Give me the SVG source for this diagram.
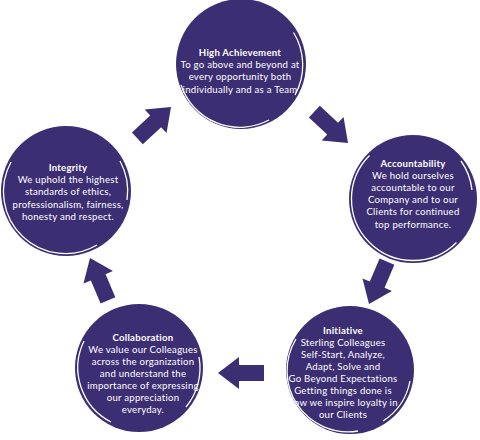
<svg xmlns="http://www.w3.org/2000/svg" xmlns:xlink="http://www.w3.org/1999/xlink" width="480" height="440" viewBox="0 0 480 440">
<style>
.c{fill:#3c2e73}
.ring{fill:none;stroke:#ffffff;stroke-width:1.3}
.t{font-family:Lato,"Open Sans","Liberation Sans",sans-serif;font-size:9.6px;letter-spacing:0.25px;fill:#ffffff;text-anchor:middle}
.b{font-weight:bold}
.arr{fill:#3c2e73}
</style>
<defs>
<path id="arrow" d="M-46,-8 L-21,-8 L-21,-16 L0,0 L-21,16 L-21,8 L-46,8 Z"/>
</defs>
<rect width="480" height="440" fill="#ffffff"/>
<g id="connectors" class="arr">
<use xlink:href="#arrow" transform="translate(171,107) rotate(-43)"/>
<use xlink:href="#arrow" transform="translate(348,143) rotate(43)"/>
<use xlink:href="#arrow" transform="translate(369,304) rotate(113)"/>
<use xlink:href="#arrow" transform="translate(218,373) rotate(180)"/>
<use xlink:href="#arrow" transform="translate(90,258) rotate(-113)"/>
</g>
<g id="high-achievement">
<circle class="c" cx="241" cy="64" r="65"/>
<path class="ring" d="M293.5,32.5 A62,62 0 0 1 295,95"/>
<path class="ring" d="M269,120 A62,62 0 0 1 181,85"/>
<text class="t" x="240" y="56"><tspan class="b" x="240">High Achievement</tspan><tspan x="240" dy="12.2">To go above and beyond at</tspan><tspan x="240" dy="12.2">every opportunity both</tspan><tspan x="240" dy="12.2">individually and as a Team</tspan></text>
</g>
<g id="accountability">
<circle class="c" cx="413" cy="199" r="64"/>
<path class="ring" d="M456.5,242.5 A61,61 0 0 1 369.5,155.5"/>
<path class="ring" d="M461,161 A61,61 0 0 1 472,190"/>
<text class="t" x="413" y="167"><tspan class="b" x="413">Accountability</tspan><tspan x="413" dy="12.1">We hold ourselves</tspan><tspan x="413" dy="12.1">accountable to our</tspan><tspan x="413" dy="12.1">Company and to our</tspan><tspan x="413" dy="12.1">Clients for continued</tspan><tspan x="413" dy="12.1">top performance.</tspan></text>
</g>
<g id="initiative">
<circle class="c" cx="350" cy="370" r="64"/>
<path class="ring" d="M358,431 A61,61 0 0 1 296,339"/>
<path class="ring" d="M410,381 A61,61 0 0 1 383,421"/>
<text class="t" x="343" y="334"><tspan class="b" x="343">Initiative</tspan><tspan x="343" dy="12">Sterling Colleagues</tspan><tspan x="343" dy="12">Self-Start, Analyze,</tspan><tspan x="343" dy="12">Adapt, Solve and</tspan><tspan x="343" dy="12">Go Beyond Expectations</tspan><tspan x="343" dy="12">Getting things done is</tspan><tspan x="343" dy="12">how we inspire loyalty in</tspan><tspan x="343" dy="12">our Clients</tspan></text>
</g>
<g id="collaboration">
<circle class="c" cx="139" cy="368" r="64"/>
<path class="ring" d="M199,357 A61,61 0 0 1 186,407"/>
<path class="ring" d="M111,422 A61,61 0 0 1 84,341"/>
<text class="t" x="143" y="341"><tspan class="b" x="143">Collaboration</tspan><tspan x="143" dy="12">We value our Colleagues</tspan><tspan x="143" dy="12">across the organization</tspan><tspan x="143" dy="12">and understand the</tspan><tspan x="143" dy="12">importance of expressing</tspan><tspan x="143" dy="12">our appreciation</tspan><tspan x="143" dy="12">everyday.</tspan></text>
</g>
<g id="integrity">
<circle class="c" cx="66" cy="191" r="65"/>
<path class="ring" d="M97,245 A62,62 0 0 1 11,162"/>
<path class="ring" d="M120,161 A62,62 0 0 1 127,200"/>
<text class="t" x="68" y="171"><tspan class="b" x="68">Integrity</tspan><tspan x="68" dy="12.2">We uphold the highest</tspan><tspan x="68" dy="12.2">standards of ethics,</tspan><tspan x="68" dy="12.2">professionalism, fairness,</tspan><tspan x="68" dy="12.2">honesty and respect.</tspan></text>
</g>
</svg>
